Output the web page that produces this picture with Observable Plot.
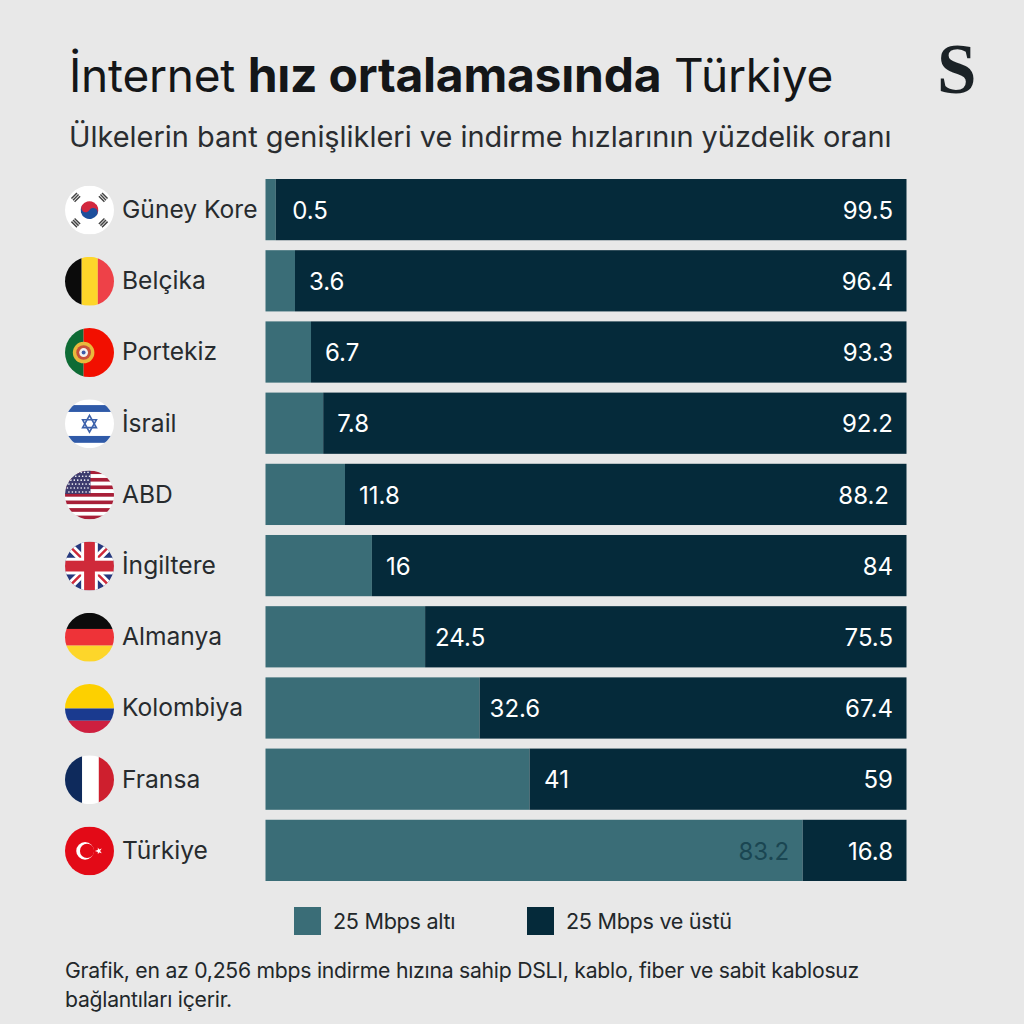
<!DOCTYPE html>
<html lang="tr">
<head>
<meta charset="utf-8">
<script src="https://cdn.jsdelivr.net/npm/d3@7"></script>
<script src="https://cdn.jsdelivr.net/npm/@observablehq/plot@0.6"></script>
<style>
  html,body{margin:0;padding:0;background:#e8e8e8;}
  #page{position:relative;width:1024px;height:1024px;overflow:hidden;background:#e8e8e8;font-family:Inter,"Liberation Sans",sans-serif;color:#1d2326;}
  #page > *{position:absolute;white-space:nowrap;}
  #title{left:69px;top:47px;font-size:46px;line-height:56px;color:#141618;letter-spacing:-.25px;}
  #title b{font-weight:700;font-size:48px;}
  #subtitle{left:69px;top:119px;font-size:28.9px;line-height:36px;color:#2a2d30;}
  #logo{left:937px;top:34px;font-family:"Liberation Serif",serif;font-weight:700;font-size:71px;line-height:71px;color:#1b2226;}
  #chart{left:0;top:170px;}
  .sw{width:27px;height:28px;top:907px;}
  .lg{top:907px;line-height:28px;font-size:21.6px;letter-spacing:-.3px;color:#22272a;}
  #note{left:65px;top:956px;font-size:21.2px;line-height:29px;color:#22272a;letter-spacing:-.25px;white-space:normal!important;width:860px;}
</style>
</head>
<body>
<div id="page">
  <div id="title">İnternet <b>hız ortalamasında</b> Türkiye</div>
  <div id="subtitle">Ülkelerin bant genişlikleri ve indirme hızlarının yüzdelik oranı</div>
  <div id="logo">S</div>
  <div id="chart"></div>
  <div class="sw" style="left:294px;background:#3a6d77"></div>
  <div class="lg" style="left:333px">25 Mbps altı</div>
  <div class="sw" style="left:527px;background:#052a3a"></div>
  <div class="lg" style="left:566px">25 Mbps ve üstü</div>
  <div id="note">Grafik, en az 0,256 mbps indirme hızına sahip DSLI, kablo, fiber ve sabit kablosuz<br>bağlantıları içerir.</div>
</div>
<script>
const countries = ["Güney Kore","Belçika","Portekiz","İsrail","ABD","İngiltere","Almanya","Kolombiya","Fransa","Türkiye"];
// Printed values
const below = [0.5,3.6,6.7,7.8,11.8,16,24.5,32.6,41,83.2];
const above = [99.5,96.4,93.3,92.2,88.2,84,75.5,67.4,59,16.8];
// Bar split as actually drawn in the source picture (its bars do not quite follow the printed values)
const drawnSplit = [1.6,4.6,7.1,9.0,12.4,16.6,24.9,33.4,41.2,83.8];
const seriesNames = ["25 Mbps altı","25 Mbps ve üstü"];
const seriesColors = ["#3a6d77","#052a3a"];

const flag = s => "data:image/svg+xml," + encodeURIComponent(`<svg xmlns="http://www.w3.org/2000/svg" viewBox="0 0 100 100">${s}</svg>`);
const rect = (x,y,w,h,f) => `<rect x="${x}" y="${y}" width="${w}" height="${h}" fill="${f}"/>`;
const usStripes = d3.range(0,13).map(i => rect(0,i*100/13,100,100/13+.2,i%2?"#fff":"#a81f38")).join("");
const usStars = d3.range(0,6).flatMap(r => d3.range(0,7).map(c => `<circle cx="${5+c*7+(r%2)*3}" cy="${4+r*8}" r="1.7" fill="#fff"/>`)).join("");
const triLines = (a,cx,cy) => `<g transform="rotate(${a} ${cx} ${cy})">${rect(cx-8,cy-6,16,3,"#444")}${rect(cx-8,cy-1.5,16,3,"#444")}${rect(cx-8,cy+3,16,3,"#444")}</g>`;
const flags = [
  flag(rect(0,0,100,100,"#fff")+triLines(-45,22,24)+triLines(45,78,24)+triLines(45,22,76)+triLines(-45,78,76)+
    `<g transform="rotate(30 50 50)"><path d="M32 50a18 18 0 0 1 36 0z" fill="#d3273e"/><path d="M32 50a18 18 0 0 0 36 0z" fill="#1d4f9c"/><circle cx="41" cy="50" r="9" fill="#d3273e"/><circle cx="59" cy="50" r="9" fill="#1d4f9c"/></g>`),
  flag(rect(0,0,34,100,"#0b0b0b")+rect(34,0,33,100,"#fdd62a")+rect(67,0,33,100,"#ee4148")),
  flag(rect(0,0,38,100,"#0e6b35")+rect(38,0,62,100,"#f20f00")+`<circle cx="38" cy="50" r="22" fill="#e9b93c"/><circle cx="38" cy="50" r="15" fill="#c8503a"/><circle cx="38" cy="50" r="9" fill="#f2f2ee"/><circle cx="38" cy="50" r="4" fill="#3c5ba8"/>`),
  flag(rect(0,0,100,100,"#fff")+rect(0,12,100,14,"#2f5aa8")+rect(0,75,100,14,"#2f5aa8")+`<g fill="none" stroke="#3d62ab" stroke-width="3.4"><path d="M50 33L64 58H36Z"/><path d="M50 67L36 42H64Z"/></g>`),
  flag(usStripes+rect(0,0,52,48,"#3c3b6e")+usStars),
  flag(rect(0,0,100,100,"#25387d")+`<g stroke="#fff" stroke-width="16"><path d="M0 0L100 100M100 0L0 100"/></g><g stroke="#cf2a3a" stroke-width="5"><path d="M0 0L100 100M100 0L0 100"/></g>`+rect(33,0,34,100,"#fff")+rect(0,33,100,34,"#fff")+rect(39,0,22,100,"#cf2a3a")+rect(0,39,100,22,"#cf2a3a")),
  flag(rect(0,0,100,33,"#0b0b0b")+rect(0,33,100,34,"#ee3338")+rect(0,67,100,33,"#fdd62a")),
  flag(rect(0,0,100,50,"#fdd000")+rect(0,50,100,25,"#1a3a8f")+rect(0,75,100,25,"#ce1f3f")),
  flag(rect(0,0,35,100,"#0e2a5c")+rect(35,0,34,100,"#fff")+rect(69,0,31,100,"#ce1f2e")),
  flag(rect(0,0,100,100,"#e30a17")+`<circle cx="41" cy="50" r="18" fill="#fff"/><circle cx="45" cy="50" r="14.5" fill="#e30a17"/><path d="M61 50L75 45L67 57V43L75 55Z" fill="#fff"/>`)
];

const rows = countries.map((c,i) => ({country:c, below:below[i], above:above[i], split:drawnSplit[i], flag:flags[i]}));
const segments = rows.flatMap(d => [
  {country:d.country, series:seriesNames[0], x1:0, x2:d.split},
  {country:d.country, series:seriesNames[1], x1:d.split, x2:100}
]);
const text = (subset, opts) => Plot.text(subset, {y:"country", dy:1, fontSize:24, fontWeight:400, lineAnchor:"middle", ...opts});
const leftLabel = (names, dx) => text(rows.filter(d => names.includes(d.country)), {x:"split", text:d => String(d.below), textAnchor:"start", dx, fill:"#fff"});

const chart = Plot.plot({
  width:1024, height:720,
  marginLeft:0, marginRight:0, marginTop:9, marginBottom:9,
  style:{background:"transparent", fontFamily:"Inter,'Liberation Sans',sans-serif"},
  x:{domain:[0,100], range:[265.5,906.5], axis:null},
  y:{domain:countries, paddingInner:.14, paddingOuter:0, round:false, axis:null},
  color:{domain:seriesNames, range:seriesColors},
  marks:[
    Plot.barX(segments, {y:"country", x1:"x1", x2:"x2", fill:"series"}),
    Plot.image(rows, {y:"country", frameAnchor:"left", dx:89, r:24.5, src:"flag"}),
    text(rows, {frameAnchor:"left", dx:121.5, dy:0, text:"country", textAnchor:"start", fill:"#272b2e", fontSize:24.6}),
    leftLabel(["Güney Kore"],16),
    leftLabel(["Belçika","Portekiz","İsrail","ABD","İngiltere"],13.5),
    leftLabel(["Almanya","Kolombiya"],9.5),
    leftLabel(["Fransa"],14),
    text(rows.filter(d => d.country==="Türkiye"), {x:"split", text:d => String(d.below), textAnchor:"end", dx:-14, fill:"#1a4652"}),
    text(rows.filter(d => d.country!=="ABD"), {x:100, text:d => String(d.above), textAnchor:"end", dx:-14, fill:"#fff"}),
    text(rows.filter(d => d.country==="ABD"), {x:100, text:d => String(d.above), textAnchor:"end", dx:-18, fill:"#fff"})
  ]
});
document.getElementById("chart").append(chart);
</script>
</body>
</html>
